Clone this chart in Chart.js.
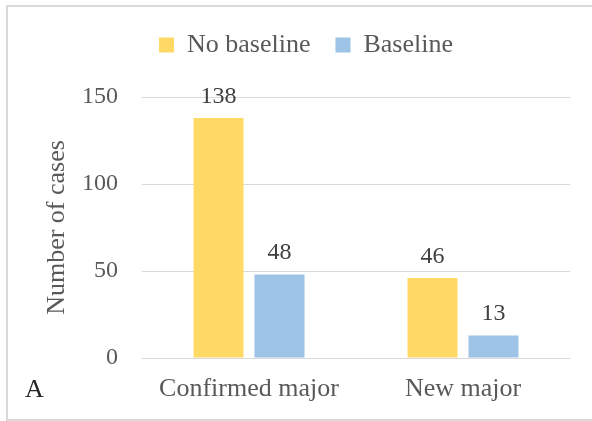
<!DOCTYPE html>
<html>
<head>
<meta charset="utf-8">
<script src="https://cdn.jsdelivr.net/npm/chart.js@4/dist/chart.umd.min.js"></script>
<style>
  html, body { margin: 0; padding: 0; background: #fff; }
  #wrap { position: relative; width: 592px; height: 421px; overflow: hidden; }
  #frame { position: absolute; left: 6px; top: 5px; width: 620px; height: 416px;
           border: 2px solid #d9d9d9; box-sizing: border-box; pointer-events: none; }
  canvas { position: absolute; left: 0; top: 0; }
</style>
</head>
<body>
<div id="wrap">
  <canvas id="c" width="592" height="421"></canvas>
  <div id="frame"></div>
</div>
<script>
const categories = ['Confirmed major', 'New major'];
const seriesNames = ['No baseline', 'Baseline'];
const noBaseline = [138, 46];
const baseline = [48, 13];
const yTicks = [0, 50, 100, 150];
const axisTitle = 'Number of cases';
const panelLetter = 'A';

const SERIF = '"Liberation Serif", "Times New Roman", serif';
const TEXT = '#595959';

// value printed above each bar, positioned from the bar element itself
const valueLabels = {
  id: 'valueLabels',
  afterDatasetsDraw(chart) {
    const ctx = chart.ctx;
    ctx.save();
    ctx.font = '24px ' + SERIF;
    ctx.fillStyle = '#404040';
    ctx.textAlign = 'center';
    ctx.textBaseline = 'alphabetic';
    chart.data.datasets.forEach((ds, i) => {
      chart.getDatasetMeta(i).data.forEach((bar, j) => {
        ctx.fillText(String(ds.data[j]), bar.x, bar.y - 15);
      });
    });
    ctx.restore();
  }
};

// panel letter in the lower-left corner
const panelTag = {
  id: 'panelTag',
  afterDraw(chart) {
    const ctx = chart.ctx;
    ctx.save();
    ctx.font = '26px ' + SERIF;
    ctx.fillStyle = '#262626';
    ctx.textAlign = 'left';
    ctx.textBaseline = 'middle';
    ctx.fillText(panelLetter, 25, 390);
    ctx.restore();
  }
};

// empty layout box that keeps some air between the legend and the plot
const legendGap = {
  id: 'legendGap',
  beforeInit(chart) {
    Chart.layouts.addBox(chart, {
      position: 'top',
      weight: 500,
      fullSize: true,
      options: {},
      left: 0, top: 0, right: 0, bottom: 0, width: 0, height: 0,
      isHorizontal() { return true; },
      update(maxWidth) { this.width = maxWidth; this.height = 29; },
      draw() {}
    });
  }
};

new Chart(document.getElementById('c'), {
  type: 'bar',
  data: {
    labels: categories,
    datasets: [
      { label: seriesNames[0], data: noBaseline, backgroundColor: '#FFD966',
        categoryPercentage: 0.57, barPercentage: 0.82 },
      { label: seriesNames[1], data: baseline, backgroundColor: '#9DC3E6',
        categoryPercentage: 0.57, barPercentage: 0.82 }
    ]
  },
  options: {
    responsive: false,
    animation: false,
    devicePixelRatio: 1,
    layout: { padding: { left: 42, right: 22, top: 7, bottom: 0 } },
    plugins: {
      legend: {
        position: 'top',
        labels: {
          font: { family: SERIF, size: 26 },
          color: TEXT,
          boxWidth: 15,
          boxHeight: 15,
          padding: 25
        }
      },
      tooltip: { enabled: false }
    },
    scales: {
      x: {
        grid: { display: false, drawTicks: false },
        border: { display: false },
        ticks: { font: { family: SERIF, size: 26 }, color: TEXT, padding: 16 },
        afterFit(s) { s.height = 63; }
      },
      y: {
        min: 0,
        max: 150,
        afterBuildTicks(s) { s.ticks = yTicks.map(v => ({ value: v })); },
        grid: { color: '#d9d9d9', lineWidth: 1, drawTicks: false },
        border: { display: false },
        ticks: { font: { family: SERIF, size: 24 }, color: TEXT, padding: 24 },
        title: { display: true, text: axisTitle, font: { family: SERIF, size: 26 },
                 color: TEXT, padding: 0 },
        afterFit(s) { s.width = 100; }
      }
    }
  },
  plugins: [legendGap, valueLabels, panelTag]
});
</script>
</body>
</html>
